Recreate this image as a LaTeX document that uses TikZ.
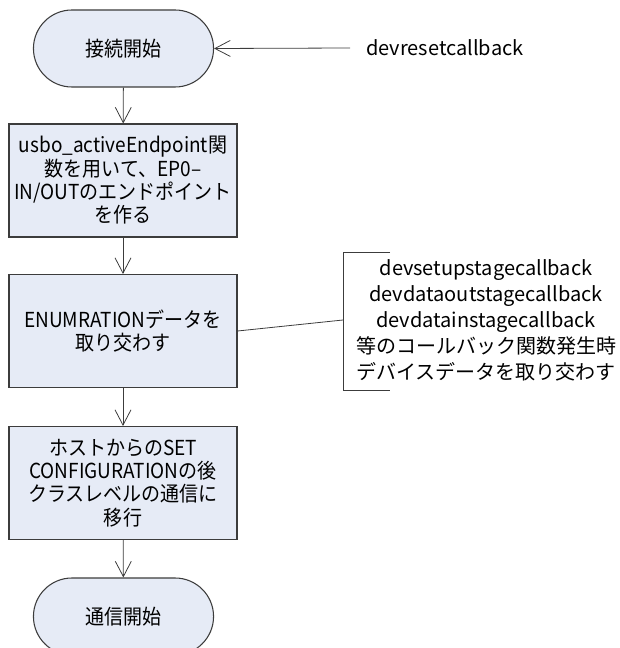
\documentclass[tikz,border=0pt]{standalone}
\usepackage{fontspec}
\setmainfont{Noto Sans CJK JP}
\newfontfamily\procfam[FakeStretch=0.92]{Noto Sans CJK JP}
\usetikzlibrary{shapes.misc, arrows.meta}

\definecolor{flowfill}{RGB}{230,235,246}
\definecolor{flowline}{RGB}{60,60,60}

\begin{document}
\begin{tikzpicture}[x=0.75pt,y=-0.75pt]

% GLOBAL SETTINGS
\newlength{\pxu}
\setlength{\pxu}{0.75pt}
\newcommand{\boxfont}{\procfam\fontsize{15.5}{17.5}\selectfont}
\newcommand{\notefont}{\fontsize{15}{19.5}\selectfont}
\tikzset{
  term/.style={rounded rectangle, draw=flowline, fill=flowfill, line width=0.8pt,
    minimum width=189\pxu, minimum height=77\pxu, font=\boxfont},
  proc/.style={rectangle, draw=flowline, fill=flowfill, line width=0.8pt,
    minimum width=228\pxu, minimum height=113\pxu, inner sep=0pt, align=center, font=\boxfont},
  note/.style={align=center, inner sep=0pt, font=\notefont},
  flow/.style={draw=flowline, line width=0.6pt, -{Straight Barb[length=11.5pt, width=12pt]}},
  link/.style={draw=flowline, line width=0.6pt}
}

% FRAME
\clip (0,0) rectangle (619,648);
\useasboundingbox (0,0) rectangle (619,648);

% NODES
\node[term] (T1) at (123.5,48.5) {接続開始};
\node[proc] (B1) at (123,180.5) {usbo\_activeEndpoint関\\数を用いて、EP0–\\IN/OUTのエンドポイント\\を作る};
\node[proc] (B2) at (123,331) {ENUMRATIONデータを\\取り交わす};
\node[proc] (B3) at (123,483) {ホストからのSET\\CONFIGURATIONの後\\クラスレベルの通信に\\移行};
\node[term] (T2) at (123.5,616.5) {通信開始};

% callbacks
\node[note, anchor=west] (R) at (366,48) {devresetcallback};
\coordinate (r) at (350,48);
\node[note] (N) at (486,320.5) {devsetupstagecallback\\devdataoutstagecallback\\devdatainstagecallback\\等のコールバック関数発生時\\デバイスデータを取り交わす};

% helper coordinates
\path (343,252) coordinate (nT) (343,390) coordinate (nB) (343,320) coordinate (nM);

% EDGES
\draw[flow] (r) -- (T1.east);
\draw[flow] (T1) -- (B1);
\draw[flow] (B1) -- (B2);
\draw[flow] (B2) -- (B3);
\draw[flow] (B3) -- (T2);

% BRACKET
\draw[link] (nT) ++(47,0) -- (nT) -- (nB) -- ++(47,0);
\draw[link] (B2.east) -- (nM);

\end{tikzpicture}
\end{document}
